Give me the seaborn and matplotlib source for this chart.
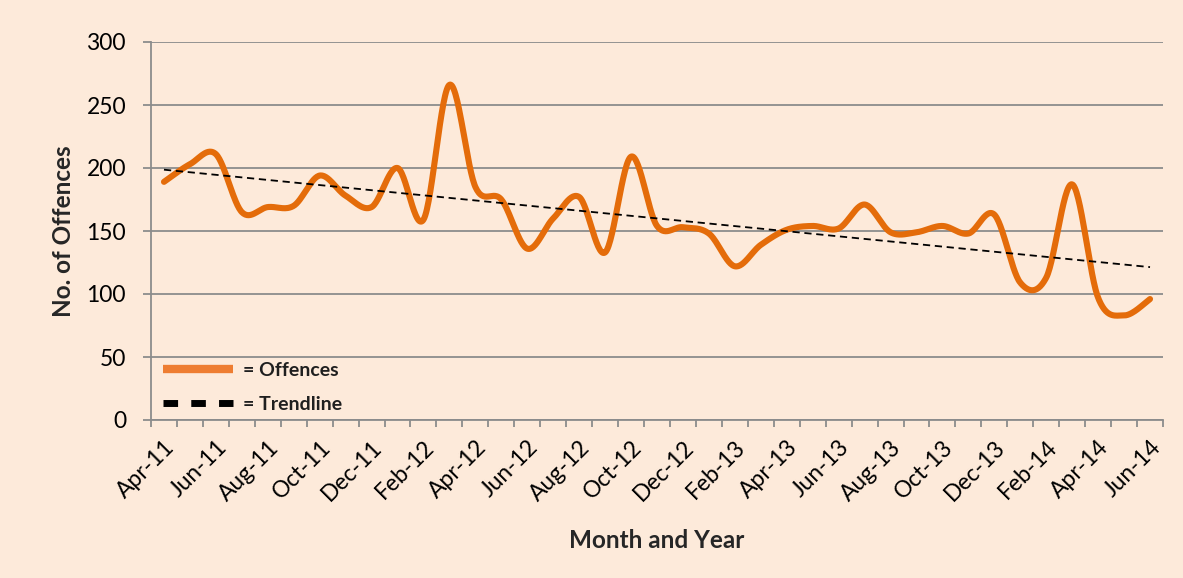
import numpy as np
import pandas as pd
import matplotlib
matplotlib.use("Agg")
import matplotlib.pyplot as plt
import seaborn as sns
from matplotlib.lines import Line2D

# ---- data ----
month_labels = pd.date_range("2011-04-01", "2014-06-01", freq="MS").strftime("%b-%y").tolist()
offences = [189, 203, 211, 165, 169, 170, 194, 178, 169, 200,
            159, 266, 185, 175, 136, 160, 177, 133, 209, 154,
            153, 148, 122, 139, 151, 154, 152, 171, 149, 149,
            154, 148, 163, 109, 113, 187, 97, 83, 96]
y_ticks = [0, 50, 100, 150, 200, 250, 300]

BG = "#FDEADA"
ORANGE = "#E46C0A"
GRID = "#8C8C8C"

sns.set_theme(style="white")
plt.rcParams["font.family"] = ["Lato", "DejaVu Sans"]

idx = np.arange(len(offences), dtype=float)
vals = np.asarray(offences, dtype=float)

# Excel-like smoothed line (Bezier through each data point)
def smooth(x, y, n=30):
    px = np.concatenate([[x[0]], x, [x[-1]]])
    py = np.concatenate([[y[0]], y, [y[-1]]])
    xs, ys = [], []
    t = np.linspace(0, 1, n, endpoint=False)
    for i in range(1, len(px) - 2):
        p0x, p1x, p2x, p3x = px[i - 1], px[i], px[i + 1], px[i + 2]
        p0y, p1y, p2y, p3y = py[i - 1], py[i], py[i + 1], py[i + 2]
        c1x, c1y = p1x + (p2x - p0x) / 6, p1y + (p2y - p0y) / 6
        c2x, c2y = p2x - (p3x - p1x) / 6, p2y - (p3y - p1y) / 6
        b = [(1 - t) ** 3, 3 * (1 - t) ** 2 * t, 3 * (1 - t) * t ** 2, t ** 3]
        xs.append(b[0] * p1x + b[1] * c1x + b[2] * c2x + b[3] * p2x)
        ys.append(b[0] * p1y + b[1] * c1y + b[2] * c2y + b[3] * p2y)
    xs.append([x[-1]]); ys.append([y[-1]])
    return np.concatenate(xs), np.concatenate(ys)

sx, sy = smooth(idx, vals)
curve = pd.DataFrame({"x": sx, "y": sy})

coef = np.polyfit(idx, vals, 1)
trend = pd.DataFrame({"x": idx, "y": np.polyval(coef, idx)})

fig = plt.figure(figsize=(11.83, 5.78), dpi=100, facecolor=BG)
ax = fig.add_axes([151 / 1183, 1 - 420 / 578, (1163 - 151) / 1183, (420 - 42) / 578])
ax.set_facecolor(BG)

sns.lineplot(data=curve, x="x", y="y", ax=ax, color=ORANGE, lw=4.4,
             sort=False, estimator=None, solid_capstyle="round", zorder=3)
sns.lineplot(data=trend, x="x", y="y", ax=ax, color="black", lw=1.3,
             sort=False, estimator=None, zorder=4)
ax.lines[-1].set_dashes((4, 2.6))

ax.set_xlim(-0.5, len(offences) - 0.5)
ax.set_ylim(0, 300)
ax.set_yticks(y_ticks)
ax.set_yticklabels([str(v) for v in y_ticks], fontsize=16.5, color="black")
ax.yaxis.grid(True, color=GRID, lw=1.3)
ax.set_axisbelow(True)
ax.tick_params(axis="y", length=6, width=1.3, color=GRID, pad=12, left=True)

ax.set_xticks(idx[::2])
ax.set_xticklabels(month_labels[::2], rotation=45, ha="right", va="top",
                   rotation_mode="anchor", fontsize=16.5, color="black")
ax.set_xticks(np.arange(len(offences) + 1) - 0.5, minor=True)
ax.tick_params(axis="x", which="major", length=0, pad=12)
ax.tick_params(axis="x", which="minor", length=5, width=1.3, color=GRID, bottom=True)
for lbl in ax.get_xticklabels():
    lbl.set_verticalalignment("top")

for s in ["top", "right"]:
    ax.spines[s].set_visible(False)
for s in ["left", "bottom"]:
    ax.spines[s].set_color(GRID)
    ax.spines[s].set_linewidth(1.3)

ax.set_xlabel("Month and Year", fontsize=17.5, fontweight="bold")
ax.set_ylabel("No. of Offences", fontsize=17.5, fontweight="bold")
ax.xaxis.set_label_coords(0.5, -0.288)
ax.yaxis.set_label_coords(-0.075, 0.5)

h1 = Line2D([], [], color="#EE7D31", lw=6, solid_capstyle="butt")
h2 = Line2D([], [], color="black", lw=5, dashes=(2.1, 1.9), dash_capstyle="butt")
leg = ax.legend([h1, h2], ["= Offences", "= Trendline"], loc="upper left",
                bbox_to_anchor=(0.012, 0.153), frameon=False, borderpad=0,
                borderaxespad=0, handlelength=3.6, handletextpad=0.5,
                labelspacing=0.85, prop={"size": 14, "weight": "bold"})
for t in leg.get_texts():
    t.set_color("#1F1F1F")

fig.savefig("out.png", dpi=100, facecolor=BG)
